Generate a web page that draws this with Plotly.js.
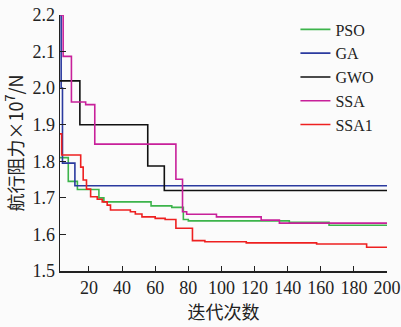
<!DOCTYPE html>
<html>
<head>
<meta charset="utf-8">
<script src="https://cdn.plot.ly/plotly-3.0.1.min.js"></script>
<style>html,body{margin:0;padding:0;background:#fbfbfb;}#chart{width:401px;height:327px;}</style>
</head>
<body>
<div id="chart"></div>
<script>
// iteration change points and best values (x10^7 N)
const psoX = [2.5, 7.5, 13, 26, 29, 57.5, 70, 77, 80, 141, 165, 200];
const psoY = [1.81, 1.745, 1.723, 1.70, 1.689, 1.678, 1.674, 1.641, 1.637, 1.633, 1.625, 1.625];
const gaX = [2.5, 3.2, 4, 11.5, 200];
const gaY = [2.2, 2.0, 1.795, 1.733, 1.733];
const gwoX = [2.5, 14.5, 55.5, 65.5, 200];
const gwoY = [2.02, 1.90, 1.787, 1.72, 1.72];
const ssaX = [2.5, 4.4, 9.4, 18, 23.5, 72.5, 76.5, 79, 97, 124, 135, 200];
const ssaY = [2.2, 2.087, 1.962, 1.955, 1.847, 1.751, 1.662, 1.655, 1.648, 1.639, 1.631, 1.629];
const ssa1X = [2.5, 3.5, 15, 16.5, 18.5, 21, 25, 28, 31, 33, 45, 48, 52, 60, 66, 72.5, 82.5, 90, 115, 157.5, 187.7, 200];
const ssa1Y = [1.875, 1.817, 1.784, 1.749, 1.724, 1.703, 1.696, 1.689, 1.680, 1.667, 1.662, 1.656, 1.648, 1.644, 1.641, 1.617, 1.583, 1.580, 1.577, 1.574, 1.565, 1.565];
const names = ['PSO', 'GA', 'GWO', 'SSA', 'SSA1'];
const colors = ['#3cb44b', '#2b3a9f', '#111111', '#c8209a', '#ee2020'];
const xTicks = [20, 40, 60, 80, 100, 120, 140, 160, 180, 200];
const yTicks = [1.5, 1.6, 1.7, 1.8, 1.9, 2.0, 2.1, 2.2];

const series = [[psoX, psoY], [gaX, gaY], [gwoX, gwoY], [ssaX, ssaY], [ssa1X, ssa1Y]];
const traces = series.map((s, i) => ({
  x: s[0], y: s[1], name: names[i], type: 'scatter', mode: 'lines',
  line: {shape: 'hv', color: colors[i], width: 1.6}
}));

const font = "'Liberation Serif', 'Times New Roman', serif";
const layout = {
  width: 401, height: 327,
  margin: {l: 60, r: 14, t: 15, b: 56},
  paper_bgcolor: '#fbfbfb', plot_bgcolor: '#fbfbfb',
  font: {family: font, size: 18, color: '#222'},
  showlegend: true,
  legend: {x: 0.72, y: 1.01, xanchor: 'left', yanchor: 'top', bgcolor: 'rgba(0,0,0,0)',
           font: {family: font, size: 16, color: '#222'}, tracegroupgap: 0, itemwidth: 30},
  xaxis: {range: [2.5, 200], tickvals: xTicks, ticks: 'inside', ticklen: 5, tickcolor: '#222',
          showline: true, linecolor: '#222', linewidth: 1.5, showgrid: false, zeroline: false,
          tickfont: {family: font, size: 18},
          title: {text: '迭代次数', font: {family: "'Noto Sans CJK SC', sans-serif", size: 18}, standoff: 6}},
  yaxis: {range: [1.5, 2.2], tickvals: yTicks, tickformat: '.1f', ticks: 'inside', ticklen: 6, tickcolor: '#222',
          showline: true, linecolor: '#222', linewidth: 1.5, showgrid: false, zeroline: false,
          tickfont: {family: font, size: 18},
          title: {text: '航行阻力×10<sup>7</sup>/N', font: {family: "'Noto Sans CJK SC', sans-serif", size: 18}, standoff: 4}}
};
Plotly.newPlot('chart', traces, layout, {displayModeBar: false, staticPlot: true});
</script>
</body>
</html>
